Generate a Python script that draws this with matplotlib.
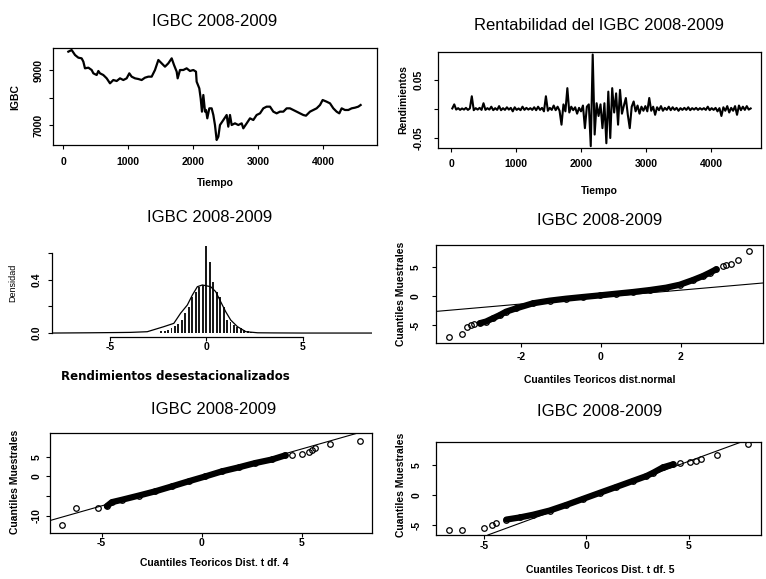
#!/usr/bin/env python3
"""
plot.py - IGBC 2008-2009: serie, rentabilidad, histograma y graficos QQ.
"""

import matplotlib

matplotlib.use("Agg")
import matplotlib.pyplot as plt

# --- Panel 1: nivel del IGBC ---
igbc_tiempo = [82, 133, 185, 236, 287, 313, 338, 390, 441, 467,
               518, 544, 569, 620, 646, 672, 723, 774, 826, 877,
               928, 979, 1020, 1056, 1108, 1159, 1210, 1261, 1313, 1364,
               1415, 1467, 1518, 1569, 1620, 1672, 1708, 1749, 1764, 1800,
               1851, 1902, 1954, 2005, 2046, 2056, 2097, 2118, 2138, 2159,
               2185, 2200, 2220, 2251, 2287, 2313, 2338, 2364, 2390, 2415,
               2467, 2518, 2543, 2569, 2595, 2646, 2697, 2749, 2774, 2826,
               2877, 2928, 2979, 3031, 3082, 3133, 3185, 3236, 3287, 3338,
               3390, 3441, 3492, 3543, 3595, 3646, 3697, 3738, 3800, 3851,
               3902, 3954, 3995, 4056, 4108, 4159, 4210, 4251, 4287, 4338,
               4390, 4441, 4492, 4543, 4579]
igbc_valor = [9667, 9727, 9545, 9448, 9424, 9303, 9061, 9085, 9000, 8879,
              8818, 8964, 8879, 8818, 8758, 8697, 8515, 8636, 8600, 8697,
              8636, 8697, 8879, 8758, 8697, 8673, 8636, 8721, 8758, 8758,
              9000, 9364, 9242, 9121, 9242, 9424, 9182, 8939, 8697, 9000,
              9000, 9061, 8964, 9000, 8939, 8576, 8333, 7970, 7485, 8091,
              7485, 7546, 7243, 7606, 7606, 7364, 7000, 6455, 6576, 7000,
              7182, 7364, 6940, 7364, 7000, 7061, 7000, 7061, 6879, 7061,
              7243, 7182, 7364, 7424, 7606, 7667, 7667, 7485, 7424, 7485,
              7485, 7606, 7606, 7546, 7485, 7424, 7364, 7339, 7485, 7546,
              7606, 7727, 7909, 7848, 7788, 7606, 7485, 7424, 7606, 7546,
              7546, 7606, 7630, 7667, 7727]

# --- Panel 2: rendimientos (una observacion cada 30 periodos) ---
rend_tiempo = list(range(20, 4640, 30))
rend_valor = [
    0.001, 0.008, -0.001, 0.0015, -0.0015, 0.001, -0.001, 0.002, -0.0015, 0.001,
    0.022, -0.002, 0.0015, -0.001, 0.002, -0.0015, 0.010, -0.0015, 0.0015, -0.001,
    0.004, -0.002, 0.0015, -0.0015, 0.005, -0.002, 0.0015, -0.0015, 0.003, -0.001,
    0.002, -0.004, 0.003, -0.0015, 0.001, -0.002, 0.004, -0.0015, 0.002, -0.001,
    0.0015, -0.0015, 0.003, -0.002, 0.004, -0.0015, 0.002, -0.004, 0.022, -0.003,
    0.002, -0.0015, 0.006, -0.002, 0.004, -0.003, -0.027, 0.008, -0.004, 0.036,
    -0.006, 0.004, -0.002, 0.003, -0.008, 0.002, -0.004, 0.006, -0.033, 0.004,
    0.008, -0.064, 0.094, -0.044, 0.010, -0.012, 0.008, -0.033, 0.010, -0.059,
    0.030, -0.050, 0.036, -0.006, 0.027, -0.027, 0.033, -0.008, 0.006, 0.019,
    -0.010, -0.033, 0.004, 0.013, -0.004, 0.006, -0.008, 0.004, -0.003, 0.005,
    -0.004, 0.019, -0.003, 0.004, -0.010, 0.003, -0.002, 0.005, -0.003, 0.002,
    -0.0015, 0.004, -0.002, 0.003, -0.0015, 0.002, -0.003, 0.0015, -0.0015, 0.002,
    -0.0015, 0.003, -0.002, 0.0015, -0.001, 0.002, -0.0015, 0.0015, -0.001, 0.0015,
    -0.0015, 0.004, -0.002, 0.0015, -0.0015, 0.002, -0.004, 0.0015, -0.012, 0.003,
    -0.003, 0.005, -0.006, 0.002, -0.003, 0.005, -0.010, 0.006, -0.002, 0.004,
    -0.0015, 0.005, -0.001, 0.001,
]

# --- Panel 3: histograma y densidad ---
hist_centros = [-2.34, -2.16, -1.98, -1.80, -1.62, -1.44, -1.26, -1.08, -0.90,
                -0.72, -0.54, -0.36, -0.18, 0.00, 0.18, 0.36, 0.54, 0.72,
                0.90, 1.08, 1.26, 1.44, 1.62, 1.80, 1.98, 2.16, 2.34]
hist_dens = [0.012, 0.018, 0.025, 0.035, 0.050, 0.070, 0.100, 0.149, 0.199,
             0.274, 0.312, 0.349, 0.362, 0.652, 0.538, 0.388, 0.312, 0.274,
             0.199, 0.098, 0.085, 0.060, 0.048, 0.035, 0.023, 0.015, 0.010]
dens_x = [-8.0, -6.0, -4.5, -3.93, -3.06, -2.20, -1.68, -1.33, -0.98, -0.72,
          -0.46, -0.20, 0.23, 0.49, 0.75, 1.01, 1.27, 1.62, 2.06, 2.67,
          3.5, 5.0, 8.6]
dens_y = [0.0, 0.002, 0.004, 0.005, 0.010, 0.048, 0.073, 0.149, 0.211, 0.286,
          0.349, 0.362, 0.349, 0.312, 0.236, 0.161, 0.098, 0.048, 0.010, 0.002,
          0.001, 0.0, 0.0]

# --- Panel 4: QQ normal ---
norm_cola_teo = [-3.80, -3.47, -3.34, -3.24, -3.16, 3.05, 3.13, 3.26, 3.42, 3.70]
norm_cola_mue = [-7.10, -6.55, -5.40, -5.00, -4.75, 5.17, 5.34, 5.52, 6.20, 7.76]
norm_banda_teo = [-3.03, -2.87, -2.70, -2.53, -2.37, -2.12, -1.70, -1.28, -0.87,
                  -0.45, -0.03, 0.38, 0.80, 1.22, 1.63, 1.97, 2.30, 2.55,
                  2.72, 2.88]
norm_banda_mue = [-4.70, -4.40, -3.85, -3.30, -2.70, -2.13, -1.26, -0.80, -0.46,
                  -0.17, 0.11, 0.40, 0.69, 1.03, 1.44, 1.95, 2.76, 3.45,
                  4.02, 4.60]
norm_recta = (-0.18, 0.60)

# --- Panel 5: QQ t con 4 g.l. ---
t4_cola_teo = [-6.99, -6.29, -5.19, 4.50, 5.00, 5.34, 5.50, 5.64, 6.42, 7.92]
t4_cola_mue = [-12.4, -7.97, -7.97, 5.50, 5.80, 6.20, 6.80, 7.20, 8.20, 9.10]
t4_banda_teo = [-4.74, -4.49, -3.99, -3.16, -2.32, -1.49, -0.66, 0.17, 1.01,
                1.84, 2.67, 3.51, 4.17]
t4_banda_mue = [-7.5, -6.5, -5.9, -4.85, -3.75, -2.5, -1.22, 0.0, 1.3,
                2.3, 3.4, 4.3, 5.35]
t4_recta = (-0.23, 1.44)

# --- Panel 6: QQ t con 5 g.l. ---
t5_cola_teo = [-6.70, -6.05, -4.99, -4.58, -4.39, 4.56, 5.05, 5.37, 5.61, 6.38, 7.88]
t5_cola_mue = [-5.78, -5.78, -5.50, -5.05, -4.60, 5.33, 5.50, 5.72, 6.06, 6.72, 8.50]
t5_banda_teo = [-3.90, -3.25, -2.60, -1.79, -0.97, -0.16, 0.65, 1.47, 2.28,
                2.93, 3.26, 3.74, 4.23]
t5_banda_mue = [-4.10, -3.75, -3.30, -2.60, -1.65, -0.65, 0.35, 1.35, 2.35,
                3.15, 3.70, 4.60, 5.10]
t5_recta = (-0.65, 1.254)

W, H = 766, 579
TITULO = "IGBC 2008-2009"

plt.rcParams["font.family"] = ["Liberation Sans", "DejaVu Sans"]
fig = plt.figure(figsize=(W / 100, H / 100), dpi=100)


def caja(x0, y0, x1, y1):
    return fig.add_axes([x0 / W, 1 - y1 / H, (x1 - x0) / W, (y1 - y0) / H])


def texto(x, y, s, **kw):
    fig.text(x / W, 1 - y / H, s, ha="center", va="center", **kw)


def ejes(ax, xt, xl, yt, yl, xd, yd):
    """Ticks al estilo R; xd/yd = distancia (px) del centro de la etiqueta al eje."""
    largo = 3.0
    ax.set_xticks(xt)
    ax.set_xticklabels(xl, fontsize=7.5, fontweight="bold")
    ax.set_yticks(yt)
    ax.set_yticklabels(yl, fontsize=7.5, fontweight="bold", rotation=90, va="center")
    xpad = max((xd - largo / 0.72 - 6) * 0.72, 0.3)
    ypad = max((yd - largo / 0.72 - 5) * 0.72, 0.3)
    ax.tick_params(axis="x", length=largo, width=0.8, pad=xpad)
    ax.tick_params(axis="y", length=largo, width=0.8, pad=ypad)
    for s in ax.spines.values():
        s.set_linewidth(0.9)


def qq(ax, cola_x, cola_y, banda_x, banda_y, recta):
    ax.plot(banda_x, banda_y, "-", color="black", lw=4.5, solid_capstyle="round")
    for xs, ys in ((banda_x, banda_y), (cola_x, cola_y)):
        ax.plot(xs, ys, "o", mfc="none", mec="black", ms=4, mew=0.9, ls="none")
    ax.axline((0, recta[0]), slope=recta[1], color="black", lw=0.8)


# Panel 1
ax1 = caja(53, 48, 377, 145)
ax1.plot(igbc_tiempo, igbc_valor, color="black", lw=1.6)
ax1.set_xlim(-154, 4831)
ax1.set_ylim(6273, 9800)
ejes(ax1, [0, 1000, 2000, 3000, 4000], ["0", "1000", "2000", "3000", "4000"],
     [7000, 8000, 9000], ["7000", "", "9000"], 18, 14)
texto(215, 21, TITULO, fontsize=12)
texto(215, 183, "Tiempo", fontsize=7.5, fontweight="bold")
texto(15, 97, "IGBC", fontsize=7.5, fontweight="bold", rotation=90)

# Panel 2
ax2 = caja(438, 52, 761, 148)
ax2.plot(rend_tiempo, rend_valor, color="black", lw=1.5)
ax2.set_xlim(-200, 4769)
ax2.set_ylim(-0.0672, 0.0983)
ejes(ax2, [0, 1000, 2000, 3000, 4000], ["0", "1000", "2000", "3000", "4000"],
     [-0.05, 0.0, 0.05], ["-0.05", "", "0.05"], 17, 19)
texto(599, 26, "Rentabilidad del IGBC 2008-2009", fontsize=12)
texto(599, 191, "Tiempo", fontsize=7.5, fontweight="bold")
texto(403, 100, "Rendimientos", fontsize=7.5, fontweight="bold", rotation=90)

# Panel 3
ax3 = caja(52, 243, 372, 336.5)
ax3.bar(hist_centros, hist_dens, width=0.1, color="#1a1a1a")
ax3.plot(dens_x, dens_y, color="black", lw=0.9)
ax3.set_xlim(-8.0, 8.6)
ax3.set_ylim(-0.026, 0.678)
ejes(ax3, [-5, 0, 5], ["-5", "0", "5"], [0.0, 0.2, 0.4, 0.6],
     ["0.0", "", "0.4", ""], 11, 15)
ax3.spines["top"].set_visible(False)
ax3.spines["right"].set_visible(False)
ax3.spines["left"].set_bounds(0.0, 0.6)
ax3.spines["bottom"].set_bounds(-5, 5)
texto(210, 218, TITULO, fontsize=12)
texto(175, 377, "Rendimientos desestacionalizados", fontsize=8.5,
      fontweight="bold", family=["DejaVu Sans"])
texto(13, 283, "Densidad", fontsize=6.5, rotation=90)

# Panel 4
ax4 = caja(436, 245, 763, 343)
qq(ax4, norm_cola_teo, norm_cola_mue, norm_banda_teo, norm_banda_mue, norm_recta)
ax4.set_xlim(-4.12, 4.05)
ax4.set_ylim(-8.1, 8.8)
ejes(ax4, [-2, 0, 2], ["-2", "0", "2"], [-5, 0, 5], ["-5", "0", "5"], 15, 20)
texto(600, 221, TITULO, fontsize=12)
texto(600, 380, "Cuantiles Teoricos dist.normal", fontsize=7.5, fontweight="bold")
texto(401, 294, "Cuantiles Muestrales", fontsize=7.5, fontweight="bold", rotation=90)

# Panel 5
ax5 = caja(50, 433, 372, 533)
qq(ax5, t4_cola_teo, t4_cola_mue, t4_banda_teo, t4_banda_mue, t4_recta)
ax5.set_xlim(-7.58, 8.5)
ax5.set_ylim(-14.3, 11.0)
ejes(ax5, [-5, 0, 5], ["-5", "0", "5"], [-10, -5, 0, 5], ["-10", "", "0", "5"], 10, 13)
texto(214, 410, TITULO, fontsize=12)
texto(214, 563, "Cuantiles Teoricos Dist. t df. 4", fontsize=7.5, fontweight="bold")
texto(15, 482, "Cuantiles Muestrales", fontsize=7.5, fontweight="bold", rotation=90)

# Panel 6
ax6 = caja(436, 442, 761, 535)
qq(ax6, t5_cola_teo, t5_cola_mue, t5_banda_teo, t5_banda_mue, t5_recta)
ax6.set_xlim(-7.33, 8.52)
ax6.set_ylim(-6.67, 8.83)
ejes(ax6, [-5, 0, 5], ["-5", "0", "5"], [-5, 0, 5], ["-5", "0", "5"], 12, 19)
texto(600, 412, TITULO, fontsize=12)
texto(600, 570, "Cuantiles Teoricos Dist. t df. 5", fontsize=7.5, fontweight="bold")
texto(401, 485, "Cuantiles Muestrales", fontsize=7.5, fontweight="bold", rotation=90)

fig.savefig("out.png", dpi=100)
